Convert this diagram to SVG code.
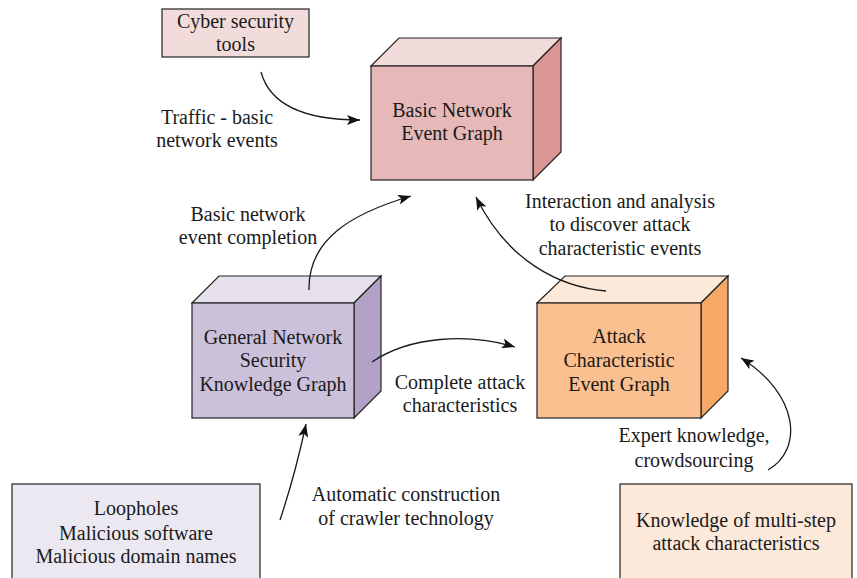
<svg xmlns="http://www.w3.org/2000/svg" width="857" height="578" viewBox="0 0 857 578">
  <style>
    text { font-family: "Liberation Serif", "Times New Roman", serif; font-size: 20px; fill: #1a1a1a; text-anchor: middle; }
    .edge { stroke: #1a1a1a; stroke-width: 1.3; fill: none; }
    .face { stroke: #222; stroke-width: 1.2; stroke-linejoin: miter; }
  </style>
  <defs>
    <marker id="arrow" markerUnits="userSpaceOnUse" markerWidth="14" markerHeight="10" refX="13" refY="5" orient="auto">
      <path d="M0,0 L13,5 L0,10 L3,5 z" fill="#111"/>
    </marker>
  </defs>
  <rect width="857" height="578" fill="#ffffff"/>

  <!-- source box: tools -->
  <g id="cyber-tools">
    <rect class="face" x="162" y="9" width="147" height="48" fill="#f2dcdb"/>
    <text x="235.5" y="28">Cyber security</text>
    <text x="235.5" y="51">tools</text>
  </g>

  <!-- cube: basic network event graph -->
  <g id="basic-event-graph">
    <polygon class="face" points="371,66 399,38 561,38 533,66" fill="#f2dcdb"/>
    <polygon class="face" points="533,66 561,38 561,152 533,180" fill="#d99694"/>
    <rect class="face" x="371" y="66" width="162" height="114" fill="#e6b9b8"/>
    <text x="452" y="117">Basic Network</text>
    <text x="452" y="140">Event Graph</text>
  </g>

  <!-- cube: general knowledge graph -->
  <g id="general-knowledge-graph">
    <polygon class="face" points="192,303 219,276 381,276 354,303" fill="#e6e0ec"/>
    <polygon class="face" points="354,303 381,276 381,391 354,418" fill="#b3a2c7"/>
    <rect class="face" x="192" y="303" width="162" height="115" fill="#ccc1da"/>
    <text x="273" y="344">General Network</text>
    <text x="273" y="367">Security</text>
    <text x="273" y="391">Knowledge Graph</text>
  </g>

  <!-- cube: attack characteristic event graph -->
  <g id="attack-event-graph">
    <polygon class="face" points="537,303 565,276 728,276 701,303" fill="#fde9d9"/>
    <polygon class="face" points="701,303 728,276 728,391 701,418" fill="#f6a865"/>
    <rect class="face" x="537" y="303" width="164" height="115" fill="#fac08f"/>
    <text x="619" y="343">Attack</text>
    <text x="619" y="367">Characteristic</text>
    <text x="619" y="391">Event Graph</text>
  </g>

  <!-- source box: vulnerabilities -->
  <g id="threat-sources">
    <rect class="face" x="12" y="484" width="248" height="110" fill="#ebe8f1"/>
    <text x="136" y="515">Loopholes</text>
    <text x="136" y="540">Malicious software</text>
    <text x="136" y="563">Malicious domain names</text>
  </g>

  <!-- source box: multi-step knowledge -->
  <g id="multistep-knowledge">
    <rect class="face" x="620" y="484" width="232" height="110" fill="#fde9d9"/>
    <text x="736" y="527">Knowledge of multi-step</text>
    <text x="736" y="550">attack characteristics</text>
  </g>

  <!-- connectors -->
  <g id="connectors">
    <path class="edge" d="M261,72 C270,105 305,120 360,120" marker-end="url(#arrow)"/>
    <path class="edge" d="M309,290 C308,240 350,214 411,196" marker-end="url(#arrow)"/>
    <path class="edge" d="M606,291 C560,287 508,262 476,197" marker-end="url(#arrow)"/>
    <path class="edge" d="M372,362 C410,336 468,333 515,347" marker-end="url(#arrow)"/>
    <path class="edge" d="M768,470 C803,450 800,395 741,358" marker-end="url(#arrow)"/>
    <path class="edge" d="M280,520 C290,490 300,452 306,424" marker-end="url(#arrow)"/>
  </g>

  <!-- connector labels -->
  <g id="labels">
    <text x="217" y="124">Traffic - basic</text>
    <text x="217" y="147">network events</text>
    <text x="248" y="221">Basic network</text>
    <text x="248" y="244">event completion</text>
    <text x="620" y="208">Interaction and analysis</text>
    <text x="620" y="231">to discover attack</text>
    <text x="620" y="255">characteristic events</text>
    <text x="460" y="389">Complete attack</text>
    <text x="460" y="412">characteristics</text>
    <text x="694" y="442">Expert knowledge,</text>
    <text x="694" y="467">crowdsourcing</text>
    <text x="406" y="501">Automatic construction</text>
    <text x="406" y="525">of crawler technology</text>
  </g>
</svg>
